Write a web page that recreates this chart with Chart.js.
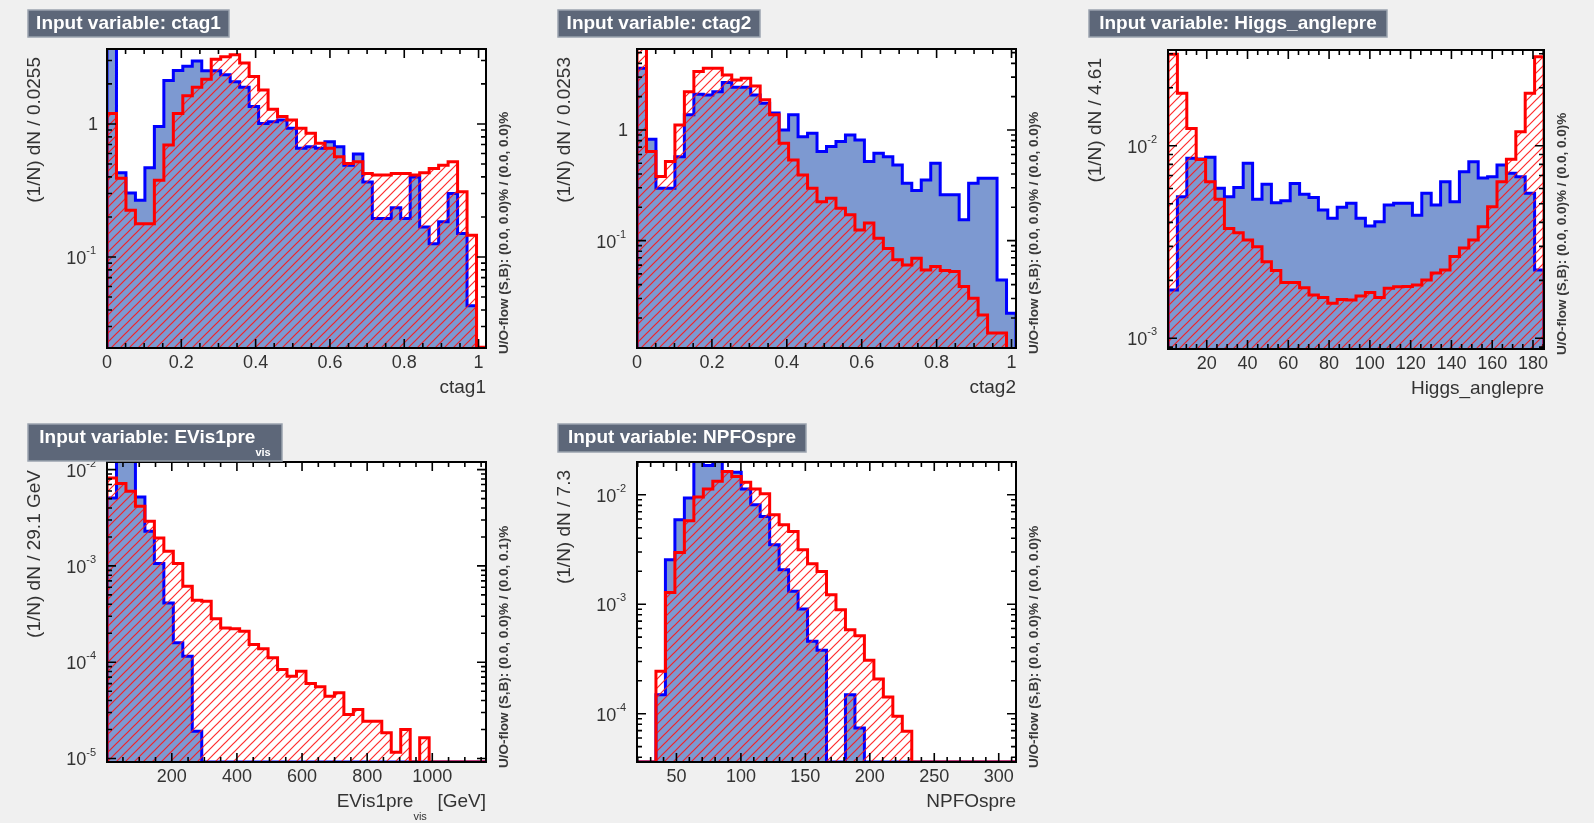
<!DOCTYPE html>
<html lang="en">
<head>
<meta charset="utf-8" />
<title>TMVA input variables</title>
<style>
  * { margin: 0; padding: 0; }
  body { width: 1594px; height: 823px; background: #f0f0f0; position: relative; overflow: hidden; }
  canvas { position: absolute; }
</style>
</head>
<body>
<canvas id="c1"></canvas>
<canvas id="c2"></canvas>
<canvas id="c3"></canvas>
<canvas id="c4"></canvas>
<canvas id="c5"></canvas>

<script src="https://cdn.jsdelivr.net/npm/chart.js@4.4.0/dist/chart.umd.min.js"></script>
<script>
// ---- data (normalised bin contents, 40 bins per variable) ----
const ctag1Sig = [6.0, 0.43, 0.303, 0.267, 0.469, 0.955, 2.12, 2.52, 2.71, 2.98, 2.51, 2.51, 2.34, 2.08, 1.89, 1.35, 1.01, 1.04, 1.07, 0.93,
  0.656, 0.675, 0.656, 0.736, 0.675, 0.49, 0.594, 0.367, 0.195, 0.195, 0.235, 0.195, 0.40, 0.168, 0.126, 0.184, 0.30, 0.15, 0.043, 0];
const ctag1Bkg = [1.20, 0.39, 0.225, 0.178, 0.178, 0.378, 0.695, 1.20, 1.63, 1.89, 2.17, 3.07, 3.20, 3.31, 2.87, 2.27, 1.80, 1.29, 1.14, 1.07,
  0.93, 0.85, 0.715, 0.656, 0.567, 0.505, 0.52, 0.425, 0.413, 0.413, 0.425, 0.425, 0.413, 0.43, 0.463, 0.49, 0.52, 0.31, 0.146, 0.021];

const ctag2Sig = [3.61, 0.823, 0.297, 0.297, 0.574, 1.37, 2.10, 2.07, 2.22, 2.68, 2.43, 2.43, 2.07, 1.74, 1.42, 1.0, 1.37, 0.87, 0.933, 0.637,
  0.707, 0.785, 0.901, 0.812, 0.518, 0.615, 0.574, 0.483, 0.33, 0.283, 0.353, 0.50, 0.259, 0.259, 0.154, 0.33, 0.366, 0.366, 0.0441, 0.022];
const ctag2Bkg = [7.0, 0.637, 0.379, 0.518, 1.11, 2.22, 3.37, 3.61, 3.61, 3.14, 2.83, 2.93, 2.50, 1.87, 1.37, 0.758, 0.536, 0.392, 0.297, 0.225,
  0.241, 0.196, 0.171, 0.125, 0.144, 0.105, 0.085, 0.067, 0.0603, 0.0692, 0.0543, 0.0582, 0.0536, 0.0525, 0.0384, 0.0301, 0.0213, 0.0146, 0.0146, 0.0105];

const higgsSig = [0.00178, 0.00543, 0.0086, 0.00853, 0.0087, 0.00601, 0.00543, 0.00606, 0.0081, 0.00528, 0.0063, 0.00506, 0.00518, 0.00637,
  0.00559, 0.00539, 0.00463, 0.0042, 0.00479, 0.00502, 0.0042, 0.00383, 0.00403, 0.00492, 0.00502, 0.00502, 0.00436, 0.00566, 0.00492,
  0.0065, 0.00512, 0.00733, 0.00826, 0.0068, 0.0069, 0.00794, 0.00719, 0.0069, 0.00566, 0.00226];
const higgsBkg = [0.0298, 0.0187, 0.0123, 0.00849, 0.0065, 0.00527, 0.00372, 0.00353, 0.00324, 0.00299, 0.0025, 0.00225, 0.00195, 0.00195,
  0.00183, 0.00168, 0.00163, 0.00152, 0.00159, 0.00158, 0.00166, 0.00173, 0.00163, 0.00182, 0.00185, 0.00186, 0.00189, 0.00201, 0.00218,
  0.00226, 0.00266, 0.00294, 0.00324, 0.0038, 0.00482, 0.0065, 0.0085, 0.0118, 0.0187, 0.029];

const evisSig = [0.00508, 0.0125, 0.0125, 0.0052, 0.00229, 0.00106, 0.000413, 0.000159, 0.000115, 0.0000192,
  0, 0, 0, 0, 0, 0, 0, 0, 0, 0, 0, 0, 0, 0, 0, 0, 0, 0, 0, 0, 0, 0, 0, 0, 0, 0, 0, 0, 0, 0];
const evisBkg = [0.00819, 0.00716, 0.00596, 0.00416, 0.00291, 0.00195, 0.00142, 0.00106, 0.000615, 0.00044, 0.00043, 0.000282, 0.000227,
  0.000222, 0.00021, 0.000153, 0.000138, 0.000111, 0.0000839, 0.0000716, 0.0000807, 0.0000601, 0.0000555, 0.0000444, 0.0000481,
  0.0000286, 0.0000323, 0.0000244, 0.0000244, 0.0000185, 0.0000116, 0.00002, 0, 0.0000164, 0, 0, 0, 0, 0, 0];

const npfoSig = [0, 0, 0.000149, 0.00255, 0.00591, 0.00933, 0.022, 0.0185, 0.022, 0.01633, 0.016, 0.01127, 0.00811, 0.00634, 0.00349,
  0.00206, 0.00131, 0.000904, 0.000458, 0.000379, 0, 0, 0.000149, 0.000074, 0, 0, 0, 0, 0, 0, 0, 0, 0, 0, 0, 0, 0, 0, 0, 0];
const npfoBkg = [0, 0, 0.000244, 0.00128, 0.00297, 0.00579, 0.00952, 0.01127, 0.01324, 0.01633, 0.0147, 0.01297, 0.01127, 0.01021,
  0.00656, 0.00532, 0.00462, 0.00315, 0.00234, 0.00199, 0.00122, 0.000891, 0.000585, 0.000515, 0.000307, 0.000207, 0.000142,
  0.0000946, 0.000069, 0, 0, 0, 0, 0, 0, 0, 0, 0, 0, 0];

// x tick labels
const ctagTicks = [0, 0.2, 0.4, 0.6, 0.8, 1];
const higgsTicks = [20, 40, 60, 80, 100, 120, 140, 160, 180];
const evisTicks = [200, 400, 600, 800, 1000];
const npfoTicks = [50, 100, 150, 200, 250, 300];

const FONT = '"Liberation Sans", Arial, Helvetica, sans-serif';
const flowText = b => 'U/O-flow (S,B): (0.0, 0.0)% / (0.0, ' + b + ')%';

// panel layout (page pixels)
const panels = [
  { id: 'c1', ox: 0, oy: 0, w: 530, h: 410, frame: [107, 49, 486, 348], box: [28, 10, 201, 27],
    title: [{ t: 'Input variable: ctag1' }], xTitle: [{ t: 'ctag1' }], yTitle: '(1/N) dN / 0.0255', flow: flowText('0.0'),
    xMin: 0, xMax: 1.02, yMin: 0.0207, yMax: 3.66, xTicks: ctagTicks, xMinor: 0.05,
    lo: 0, bw: 0.0255, sig: ctag1Sig, bkg: ctag1Bkg },
  { id: 'c2', ox: 530, oy: 0, w: 530, h: 410, frame: [637, 49, 1016, 348], box: [558, 10, 202, 27],
    title: [{ t: 'Input variable: ctag2' }], xTitle: [{ t: 'ctag2' }], yTitle: '(1/N) dN / 0.0253', flow: flowText('0.0'),
    xMin: 0, xMax: 1.012, yMin: 0.0107, yMax: 5.39, xTicks: ctagTicks, xMinor: 0.05,
    lo: 0, bw: 0.0253, sig: ctag2Sig, bkg: ctag2Bkg },
  { id: 'c3', ox: 1060, oy: 0, w: 534, h: 410, frame: [1168, 50, 1544, 349], box: [1089, 10, 298, 27],
    title: [{ t: 'Input variable: Higgs_anglepre' }], xTitle: [{ t: 'Higgs_anglepre' }], yTitle: '(1/N) dN / 4.61', flow: flowText('0.0'),
    xMin: 1.0, xMax: 185.4, yMin: 0.00088, yMax: 0.0314, xTicks: higgsTicks, xMinor: 5,
    lo: 1.0, bw: 4.61, sig: higgsSig, bkg: higgsBkg },
  { id: 'c4', ox: 0, oy: 410, w: 530, h: 413, frame: [107, 462, 486, 762], box: [28, 424, 254, 37],
    title: [{ t: 'Input variable: EVis1pre' }, { t: 'vis', sub: true }],
    xTitle: [{ t: 'EVis1pre' }, { t: 'vis', sub: true }, { t: '  [GeV]' }], yTitle: '(1/N) dN / 29.1 GeV', flow: flowText('0.1'),
    xMin: 1, xMax: 1165, yMin: 9.2e-6, yMax: 0.012, xTicks: evisTicks, xMinor: 50,
    lo: 1, bw: 29.1, sig: evisSig, bkg: evisBkg },
  { id: 'c5', ox: 530, oy: 410, w: 530, h: 413, frame: [637, 462, 1016, 762], box: [558, 424, 248, 28],
    title: [{ t: 'Input variable: NPFOspre' }], xTitle: [{ t: 'NPFOspre' }], yTitle: '(1/N) dN / 7.3', flow: flowText('0.0'),
    xMin: 19.4, xMax: 313.4, yMin: 3.62e-5, yMax: 0.0199, xTicks: npfoTicks, xMinor: 10,
    lo: 19.4, bw: 7.35, sig: npfoSig, bkg: npfoBkg },
];

// red hatch pattern for the background histogram
const hatch = (() => {
  const s = 9;
  const c = document.createElement('canvas');
  c.width = s; c.height = s;
  const g = c.getContext('2d');
  g.strokeStyle = 'rgba(255, 20, 20, 0.9)';
  g.lineWidth = 1.2;
  g.beginPath();
  g.moveTo(0, s); g.lineTo(s, 0);
  g.moveTo(-1, 1); g.lineTo(1, -1);
  g.moveTo(s - 1, s + 1); g.lineTo(s + 1, s - 1);
  g.stroke();
  return g.createPattern(c, 'repeat');
})();

// histogram -> stepped points (bin lower edges, closed at both ends)
function histPoints(lo, bw, values, floor) {
  const pts = [{ x: lo, y: floor }];
  values.forEach((v, i) => pts.push({ x: lo + i * bw, y: v > 0 ? v : floor }));
  pts.push({ x: lo + values.length * bw, y: floor });
  return pts;
}

// text with optional subscripts
function drawRich(ctx, segs, x, y, align, size, bold) {
  const w = bold ? 'bold ' : '';
  let total = 0;
  segs.forEach(s => {
    s.font = w + (s.sub ? Math.round(size * 0.6) : size) + 'px ' + FONT;
    ctx.font = s.font;
    s.w = ctx.measureText(s.t).width;
    total += s.w;
  });
  let cx = align === 'right' ? x - total : align === 'center' ? x - total / 2 : x;
  ctx.textAlign = 'left';
  ctx.textBaseline = 'middle';
  segs.forEach(s => {
    ctx.font = s.font;
    ctx.fillText(s.t, cx, y + (s.sub ? size * 0.8 : 0));
    cx += s.w;
  });
}

function framePlugin(p) {
  return {
    id: 'rootFrame',
    beforeDatasetsDraw(chart) {
      const { ctx, chartArea: a } = chart;
      ctx.save();
      ctx.fillStyle = '#ffffff';
      ctx.fillRect(a.left, a.top, a.right - a.left, a.bottom - a.top);
      ctx.restore();
    },
    afterDraw(chart) {
      const { ctx, chartArea: a, scales: { x, y } } = chart;
      ctx.save();

      // frame
      ctx.strokeStyle = '#000';
      ctx.lineWidth = 2;
      ctx.strokeRect(a.left, a.top, a.right - a.left, a.bottom - a.top);

      // x ticks, bottom and top, pointing inward
      ctx.lineWidth = 1.6;
      ctx.beginPath();
      const k0 = Math.ceil(p.xMin / p.xMinor - 1e-6), k1 = Math.floor(p.xMax / p.xMinor + 1e-6);
      for (let k = k0; k <= k1; k++) {
        const v = k * p.xMinor;
        const px = x.getPixelForValue(v);
        const major = p.xTicks.some(t => Math.abs(t - v) < p.xMinor / 100);
        const len = major ? 9 : 5;
        ctx.moveTo(px, a.bottom); ctx.lineTo(px, a.bottom - len);
        ctx.moveTo(px, a.top); ctx.lineTo(px, a.top + len);
      }
      // y ticks, log decades and 2..9 sub-ticks
      const e0 = Math.floor(Math.log10(p.yMin)), e1 = Math.ceil(Math.log10(p.yMax));
      for (let e = e0; e <= e1; e++) {
        for (let m = 1; m <= 9; m++) {
          const v = m * Math.pow(10, e);
          if (v < p.yMin || v > p.yMax) continue;
          const py = y.getPixelForValue(v);
          const len = m === 1 ? 9 : 5;
          ctx.moveTo(a.left, py); ctx.lineTo(a.left + len, py);
          ctx.moveTo(a.right, py); ctx.lineTo(a.right - len, py);
        }
      }
      ctx.stroke();

      // x tick labels
      ctx.fillStyle = '#333';
      ctx.font = '18px ' + FONT;
      ctx.textAlign = 'center';
      ctx.textBaseline = 'middle';
      p.xTicks.forEach(t => ctx.fillText(String(t), x.getPixelForValue(t), a.bottom + 15));

      // y tick labels (1, 10^-n)
      const xr = a.left - 11;
      for (let e = e0; e <= e1; e++) {
        const v = Math.pow(10, e);
        if (v < p.yMin || v > p.yMax) continue;
        const py = y.getPixelForValue(v);
        if (e === 0) {
          ctx.font = '18px ' + FONT;
          ctx.textAlign = 'right';
          ctx.fillText('1', xr + 2, py + 1);
        } else {
          const ex = String(e);
          ctx.font = '11px ' + FONT;
          const ew = ctx.measureText(ex).width;
          ctx.textAlign = 'left';
          ctx.fillText(ex, xr - ew, py - 6);
          ctx.font = '18px ' + FONT;
          ctx.textAlign = 'right';
          ctx.fillText('10', xr - ew, py + 2);
        }
      }

      // axis titles
      drawRich(ctx, p.xTitle, a.right, a.bottom + 40, 'right', 19, false);

      ctx.save();
      ctx.translate(a.left - 72, a.top + 8);
      ctx.rotate(-Math.PI / 2);
      ctx.font = '19px ' + FONT;
      ctx.textAlign = 'right';
      ctx.textBaseline = 'middle';
      ctx.fillText(p.yTitle, 0, 0);
      ctx.restore();

      // under/overflow note
      ctx.save();
      ctx.translate(a.right + 18, a.bottom + 6);
      ctx.rotate(-Math.PI / 2);
      ctx.font = 'bold 13.5px ' + FONT;
      ctx.fillStyle = '#3a3a3a';
      ctx.textAlign = 'left';
      ctx.textBaseline = 'middle';
      ctx.fillText(p.flow, 0, 0);
      ctx.restore();

      // title box
      const [bx, by, bwid, bh] = p.box;
      const lx = bx - p.ox, ly = by - p.oy;
      ctx.fillStyle = '#5d6779';
      ctx.fillRect(lx, ly, bwid, bh);
      ctx.strokeStyle = '#9aa3ae';
      ctx.lineWidth = 1.5;
      ctx.strokeRect(lx, ly, bwid, bh);
      ctx.fillStyle = '#ffffff';
      drawRich(ctx, p.title, lx + bwid / 2, ly + 14, 'center', 19, true);

      ctx.restore();
    },
  };
}

panels.forEach(p => {
  const canvas = document.getElementById(p.id);
  canvas.width = p.w;
  canvas.height = p.h;
  canvas.style.left = p.ox + 'px';
  canvas.style.top = p.oy + 'px';
  const [L, T, R, B] = p.frame;

  new Chart(canvas, {
    type: 'line',
    data: {
      datasets: [
        {
          label: 'Signal',
          data: histPoints(p.lo, p.bw, p.sig, p.yMin),
          stepped: 'before',
          borderColor: '#0000ff',
          backgroundColor: '#7d99d1',
          borderWidth: 3,
          borderJoinStyle: 'miter',
          fill: 'start',
          pointRadius: 0,
          order: 2,
        },
        {
          label: 'Background',
          data: histPoints(p.lo, p.bw, p.bkg, p.yMin),
          stepped: 'before',
          borderColor: '#ff0000',
          backgroundColor: hatch,
          borderWidth: 3,
          borderJoinStyle: 'miter',
          fill: 'start',
          pointRadius: 0,
          order: 1,
        },
      ],
    },
    options: {
      responsive: false,
      animation: false,
      devicePixelRatio: 1,
      layout: { padding: { left: L - p.ox, top: T - p.oy, right: p.ox + p.w - R, bottom: p.oy + p.h - B } },
      plugins: { legend: { display: false }, tooltip: { enabled: false } },
      scales: {
        x: { type: 'linear', display: false, min: p.xMin, max: p.xMax },
        y: { type: 'logarithmic', display: false, min: p.yMin, max: p.yMax },
      },
    },
    plugins: [framePlugin(p)],
  });
});
</script>
</body>
</html>
